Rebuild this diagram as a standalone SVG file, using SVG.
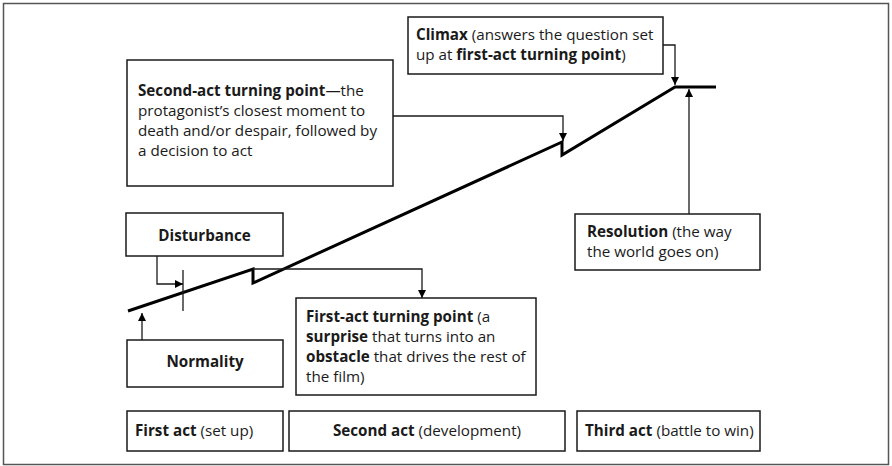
<svg xmlns="http://www.w3.org/2000/svg" width="892" height="466" viewBox="0 0 892 466">
  <style>
    .box { fill: #fff; stroke: #1a1a1a; stroke-width: 1.5; }
    .plot { fill: none; stroke: #000; stroke-width: 3; stroke-linejoin: miter; }
    .conn { fill: none; stroke: #1a1a1a; stroke-width: 1.3; }
    text { font-family: "Open Sans", "Noto Sans", sans-serif; font-size: 15.2px; fill: #1a1a1a; }
    .b { font-weight: bold; }
    .c { text-anchor: middle; }
  </style>
  <defs>
    <marker id="arrow" viewBox="0 0 10 10" refX="10" refY="5" markerWidth="8" markerHeight="8" markerUnits="userSpaceOnUse" orient="auto">
      <path d="M0,0 L10,5 L0,10 z" fill="#000"/>
    </marker>
  </defs>

  <!-- frame -->
  <rect x="3.5" y="3.5" width="885" height="461" fill="#fff" stroke="#555" stroke-width="1.5"/>

  <!-- story line -->
  <g id="storyline">
    <path class="plot" d="M128,311 L253,269 L253,283 L562,142 L562,155 L675,87 L716,87"/>
    <line class="conn" x1="183" y1="270" x2="183" y2="311" stroke-width="1.5"/>
  </g>

  <!-- connectors -->
  <g id="connectors">
    <path class="conn" d="M157,256 V284 H183" marker-end="url(#arrow)"/>
    <path class="conn" d="M142,340 V313" marker-end="url(#arrow)"/>
    <path class="conn" d="M253,269 H422 V298" marker-end="url(#arrow)"/>
    <path class="conn" d="M393,116 H563 V141" marker-end="url(#arrow)"/>
    <path class="conn" d="M663,45 H675 V85" marker-end="url(#arrow)"/>
    <path class="conn" d="M689,214 V89" marker-end="url(#arrow)"/>
  </g>

  <g id="second-act-turning-point">
    <rect class="box" x="127" y="60" width="266" height="126"/>
    <text x="138" y="96"><tspan class="b">Second-act turning point</tspan>—the</text>
    <text x="138" y="116">protagonist’s closest moment to</text>
    <text x="138" y="136">death and/or despair, followed by</text>
    <text x="138" y="156">a decision to act</text>
  </g>

  <g id="climax">
    <rect class="box" x="408" y="17" width="255" height="57"/>
    <text x="416" y="40"><tspan class="b">Climax</tspan> (answers the question set</text>
    <text x="416" y="60">up at <tspan class="b">first-act turning point</tspan>)</text>
  </g>

  <g id="disturbance">
    <rect class="box" x="126" y="213" width="157" height="43"/>
    <text class="b c" x="204.5" y="241">Disturbance</text>
  </g>

  <g id="normality">
    <rect class="box" x="127" y="340" width="156" height="47"/>
    <text class="b c" x="205" y="367">Normality</text>
  </g>

  <g id="first-act-turning-point">
    <rect class="box" x="296" y="298" width="240" height="97"/>
    <text x="306" y="322"><tspan class="b">First-act turning point</tspan> (a</text>
    <text x="306" y="342"><tspan class="b">surprise</tspan> that turns into an</text>
    <text x="306" y="362"><tspan class="b">obstacle</tspan> that drives the rest of</text>
    <text x="306" y="382">the film)</text>
  </g>

  <g id="resolution">
    <rect class="box" x="575" y="214" width="185" height="56"/>
    <text x="587" y="237"><tspan class="b">Resolution</tspan> (the way</text>
    <text x="587" y="257">the world goes on)</text>
  </g>

  <g id="first-act">
    <rect class="box" x="127" y="411" width="156" height="40"/>
    <text x="135" y="436"><tspan class="b">First act</tspan> (set up)</text>
  </g>

  <g id="second-act">
    <rect class="box" x="289" y="411" width="276" height="40"/>
    <text class="c" x="427" y="436"><tspan class="b">Second act</tspan> (development)</text>
  </g>

  <g id="third-act">
    <rect class="box" x="577" y="411" width="183" height="40"/>
    <text x="585" y="436"><tspan class="b">Third act</tspan> (battle to win)</text>
  </g>
</svg>
